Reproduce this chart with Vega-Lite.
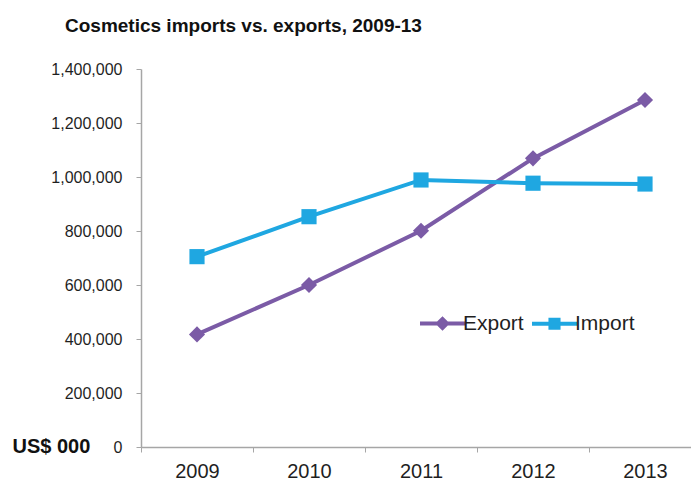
{
  "$schema": "https://vega.github.io/schema/vega-lite/v6.json",
  "width": 550,
  "height": 378,
  "autosize": "none",
  "padding": {"left": 141, "top": 69, "right": 0, "bottom": 33},
  "background": "white",
  "title": {
    "text": "Cosmetics imports vs. exports, 2009-13",
    "anchor": "start",
    "frame": "group",
    "dx": -76,
    "offset": 10,
    "baseline": "alphabetic",
    "font": "Liberation Sans, Arial",
    "fontSize": 19,
    "fontWeight": "bold",
    "color": "#111111"
  },
  "config": {"view": {"stroke": null}, "font": "Liberation Sans, Arial"},
  "data": {
    "values": [
      {"year": 2009, "series": "Export", "value": 417000},
      {"year": 2010, "series": "Export", "value": 600000},
      {"year": 2011, "series": "Export", "value": 801000},
      {"year": 2012, "series": "Export", "value": 1069000},
      {"year": 2013, "series": "Export", "value": 1285000},
      {"year": 2009, "series": "Import", "value": 705000},
      {"year": 2010, "series": "Import", "value": 853000},
      {"year": 2011, "series": "Import", "value": 989000},
      {"year": 2012, "series": "Import", "value": 977000},
      {"year": 2013, "series": "Import", "value": 974000}
    ]
  },
  "encoding": {
    "x": {
      "field": "year",
      "type": "quantitative",
      "scale": {"domain": [2008.5, 2013.4107], "nice": false, "zero": false},
      "axis": {
        "title": null,
        "grid": false,
        "values": [2008.5, 2009.5, 2010.5, 2011.5, 2012.5],
        "labelExpr": "format(datum.value + 0.5, 'd')",
        "labelOffset": 56,
        "labelFlush": false,
        "labelOverlap": false,
        "labelFontSize": 20,
        "labelColor": "#1f1f1f",
        "labelPadding": 9,
        "tickSize": 5,
        "tickColor": "#a6a6a6",
        "domainColor": "#a6a6a6",
        "domainWidth": 1.5
      }
    },
    "y": {
      "field": "value",
      "type": "quantitative",
      "scale": {"domain": [0, 1400000], "nice": false},
      "axis": {
        "title": "US$ 000",
        "titleAngle": 0,
        "titleX": -129,
        "titleY": 377,
        "titleAlign": "left",
        "titleBaseline": "middle",
        "titleFontSize": 20,
        "titleFontWeight": "bold",
        "titleColor": "#111111",
        "grid": false,
        "values": [0, 200000, 400000, 600000, 800000, 1000000, 1200000, 1400000],
        "format": ",d",
        "labelFontSize": 16,
        "labelColor": "#1f1f1f",
        "labelPadding": 14,
        "tickSize": 5,
        "tickColor": "#a6a6a6",
        "domainColor": "#a6a6a6",
        "domainWidth": 1.5
      }
    },
    "color": {
      "field": "series",
      "type": "nominal",
      "scale": {"domain": ["Export", "Import"], "range": ["#7b5ba6", "#1fa7e1"]},
      "legend": {
        "title": null,
        "orient": "none",
        "legendX": 277,
        "legendY": 230,
        "direction": "horizontal",
        "padding": 0,
        "symbolSize": 2025,
        "symbolStrokeWidth": 4,
        "labelFontSize": 21,
        "labelColor": "#1f1f1f",
        "labelOffset": -4,
        "columnPadding": 0,
        "encode": {
          "symbols": {
            "update": {
              "shape": {"signal": "datum.value == 'Export' ? 'M-1,0H1M-0.2,0L0,-0.2L0.2,0L0,0.2Z' : 'M-1,0H1M-0.18,-0.18H0.18V0.18H-0.18Z'"},
              "fill": {"signal": "datum.value == 'Export' ? '#7b5ba6' : '#1fa7e1'"},
              "stroke": {"signal": "datum.value == 'Export' ? '#7b5ba6' : '#1fa7e1'"},
              "opacity": {"value": 1}
            }
          }
        }
      }
    }
  },
  "layer": [
    {"mark": {"type": "line", "strokeWidth": 4}},
    {
      "transform": [{"filter": "datum.series == 'Export'"}],
      "mark": {"type": "point", "shape": "diamond", "filled": true, "opacity": 1, "size": 260}
    },
    {
      "transform": [{"filter": "datum.series == 'Import'"}],
      "mark": {"type": "point", "shape": "square", "filled": true, "opacity": 1, "size": 230}
    }
  ]
}
